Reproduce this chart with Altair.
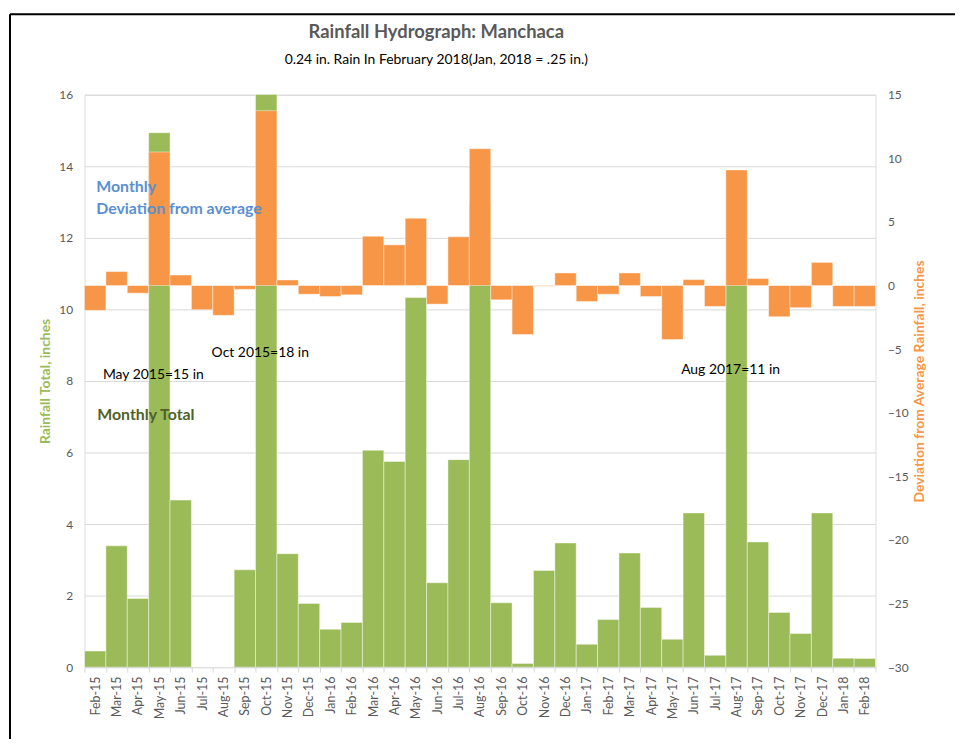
import altair as alt
import pandas as pd

months = ["Feb-15", "Mar-15", "Apr-15", "May-15", "Jun-15", "Jul-15", "Aug-15", "Sep-15",
          "Oct-15", "Nov-15", "Dec-15", "Jan-16", "Feb-16", "Mar-16", "Apr-16", "May-16",
          "Jun-16", "Jul-16", "Aug-16", "Sep-16", "Oct-16", "Nov-16", "Dec-16", "Jan-17",
          "Feb-17", "Mar-17", "Apr-17", "May-17", "Jun-17", "Jul-17", "Aug-17", "Sep-17",
          "Oct-17", "Nov-17", "Dec-17", "Jan-18", "Feb-18"]
rain = [0.45, 3.39, 1.92, 14.94, 4.67, 0.0, 0.0, 2.72,
        18.0, 3.17, 1.78, 1.06, 1.25, 6.06, 5.75, 10.33,
        2.36, 5.8, 13.0, 1.8, 0.1, 2.7, 3.47, 0.64,
        1.33, 3.19, 1.67, 0.78, 4.31, 0.33, 11.0, 3.5,
        1.53, 0.94, 4.31, 0.25, 0.24]
deviation = [-1.95, 1.1, -0.6, 10.5, 0.83, -1.9, -2.34, -0.3,
             13.75, 0.44, -0.68, -0.86, -0.73, 3.88, 3.2, 5.29,
             -1.46, 3.83, 10.76, -1.12, -3.85, -0.05, 0.99, -1.25,
             -0.68, 0.99, -0.86, -4.24, 0.47, -1.64, 9.09, 0.55,
             -2.45, -1.74, 1.82, -1.64, -1.64]

left_ticks = [0, 2, 4, 6, 8, 10, 12, 14, 16]
right_ticks = [-30, -25, -20, -15, -10, -5, 0, 5, 10, 15]

title_text = "Rainfall Hydrograph: Manchaca"
subtitle_text = "0.24 in. Rain In February 2018(Jan, 2018 = .25 in.)"

notes_black = pd.DataFrame({
    "month": ["May-15", "Oct-15", "Aug-17"],
    "v": [8.17, 8.78, 8.31],
    "label": ["May 2015=15 in", "Oct 2015=18 in", "Aug 2017=11 in"],
})
notes_blue = pd.DataFrame({
    "month": ["Feb-15", "Feb-15"],
    "v": [13.42, 12.8],
    "label": ["Monthly", "Deviation from average"],
})
notes_green = pd.DataFrame({"month": ["Feb-15"], "v": [7.06], "label": ["Monthly Total"]})

df = pd.DataFrame({"month": months, "rain": rain, "dev": deviation})

FONT = "Lato"
GREEN = "#9BBB59"
ORANGE = "#F79646"

x_enc = alt.X("month:N", sort=months,
              scale=alt.Scale(paddingInner=0, paddingOuter=0),
              axis=alt.Axis(title=None, labelAngle=270, labelFontSize=12.5, labelColor="#595959",
                            labelFont=FONT, tickBand="extent", tickColor="#d9d9d9", tickSize=5,
                            domainColor="#d9d9d9", domainWidth=1, labelPadding=4))

green = alt.Chart(df).mark_bar(color=GREEN, clip=True, stroke="white", strokeWidth=0.7,
                               strokeOpacity=0.6).encode(
    x=x_enc,
    y=alt.Y("rain:Q", scale=alt.Scale(domain=[0, 16], nice=False),
            axis=alt.Axis(title="Rainfall Total, inches", values=left_ticks, orient="left",
                          titleColor=GREEN, titleFont=FONT, titleFontSize=14, titleFontWeight="bold",
                          labelColor="#595959", labelFont=FONT, labelFontSize=12,
                          ticks=False, domain=False, labelPadding=12, titlePadding=6,
                          grid=True, gridColor="#d9d9d9", gridWidth=1)),
)

orange = alt.Chart(df).mark_bar(color=ORANGE, stroke="white", strokeWidth=0.7,
                                strokeOpacity=0.6).encode(
    x=alt.X("month:N", sort=months),
    y=alt.Y("dev:Q", scale=alt.Scale(domain=[-30, 15], nice=False),
            axis=alt.Axis(title="Deviation from Average Rainfall, inches", values=right_ticks,
                          orient="right", titleColor=ORANGE, titleFont=FONT, titleFontSize=14,
                          titleFontWeight="bold", titleAngle=270,
                          labelColor="#595959", labelFont=FONT, labelFontSize=12,
                          ticks=False, domain=False, labelPadding=12, titlePadding=18, grid=False)),
    y2=alt.datum(0),
)

note_y = lambda: alt.Y("v:Q", scale=alt.Scale(domain=[0, 16], nice=False), axis=None)

t_black = alt.Chart(notes_black).mark_text(font=FONT, fontSize=14, color="black", dx=-6).encode(
    x=alt.X("month:N", sort=months), y=note_y(), text="label:N")
t_blue = alt.Chart(notes_blue).mark_text(font=FONT, fontSize=16, fontWeight="bold", color="#5B8FD2",
                                         align="left", dx=1).encode(
    x=alt.X("month:N", sort=months), y=note_y(), text="label:N")
t_green = alt.Chart(notes_green).mark_text(font=FONT, fontSize=16, fontWeight="bold", color="#4F6228",
                                           align="left", dx=2).encode(
    x=alt.X("month:N", sort=months), y=note_y(), text="label:N")

head = pd.DataFrame({"t": [title_text]})
sub = pd.DataFrame({"t": [subtitle_text]})
t_title = alt.Chart(head).mark_text(font=FONT, fontSize=18.5, fontWeight="bold", color="#595959",
                                    clip=False).encode(
    x=alt.value(354), y=alt.value(-63), text="t:N")
t_sub = alt.Chart(sub).mark_text(font=FONT, fontSize=14, color="black", clip=False).encode(
    x=alt.value(354), y=alt.value(-35), text="t:N")

frame_top = alt.Chart(head).mark_rule(color="black", strokeWidth=2, clip=False).encode(
    x=alt.value(-75), x2=alt.value(900), y=alt.value(-81))
frame_left = alt.Chart(head).mark_rule(color="black", strokeWidth=2, clip=False).encode(
    x=alt.value(-75), y=alt.value(-81), y2=alt.value(680))

chart = alt.layer(green, orange, t_black, t_blue, t_green, t_title, t_sub,
                  frame_top, frame_left).resolve_scale(y="independent").properties(
    width=796, height=576,
    autosize=alt.AutoSizeParams(type="none"),
    padding={"left": 77, "top": 85, "right": 80, "bottom": 70},
).configure_view(stroke=None).configure(background="white")

chart.save("out.html", embed_options={"renderer": "svg", "actions": False})
